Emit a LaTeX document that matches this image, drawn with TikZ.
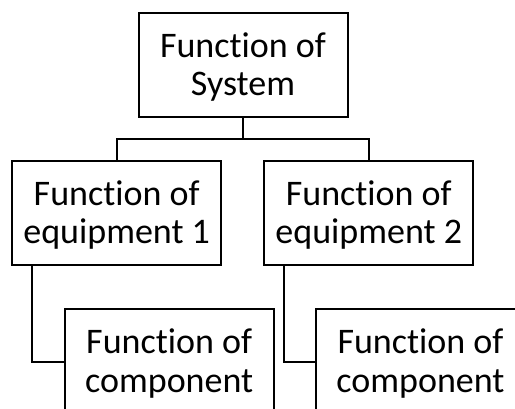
\documentclass[tikz,border=0pt]{standalone}
\usepackage{fontspec}
\setmainfont{Carlito}[Ligatures=NoCommon]
\begin{document}
\begin{tikzpicture}[x=1pt,y=-1pt,
  fnbox/.style={draw, line width=2pt, inner sep=0pt, minimum width=209pt,
    align=center, font=\fontsize{36}{38.5}\selectfont,
    text height=83pt, text depth=21.5pt},
  link/.style={line width=2pt}]
\useasboundingbox (0,0) rectangle (515,408);
\clip (0,0) rectangle (515,408);
% hierarchy of functions
\node[fnbox] (sys) at (243,64.8) {Function of\\System};
\node[fnbox] (eq1) at (116.7,212.8) {Function of\\equipment 1};
\node[fnbox] (eq2) at (368.8,212.8) {Function of\\equipment 2};
\node[fnbox] (c1) at (169.2,361.5) {Function of\\component};
\node[fnbox] (c2) at (420.5,361.5) {Function of\\component};
% connectors
\draw[link] (sys.south) -- ++(0,21) -| (eq1.north);
\draw[link] (sys.south) -- ++(0,21) -| (eq2.north);
\draw[link] ([xshift=21pt]eq1.south west) |- (c1.west);
\draw[link] ([xshift=21pt]eq2.south west) |- (c2.west);
\end{tikzpicture}
\end{document}
